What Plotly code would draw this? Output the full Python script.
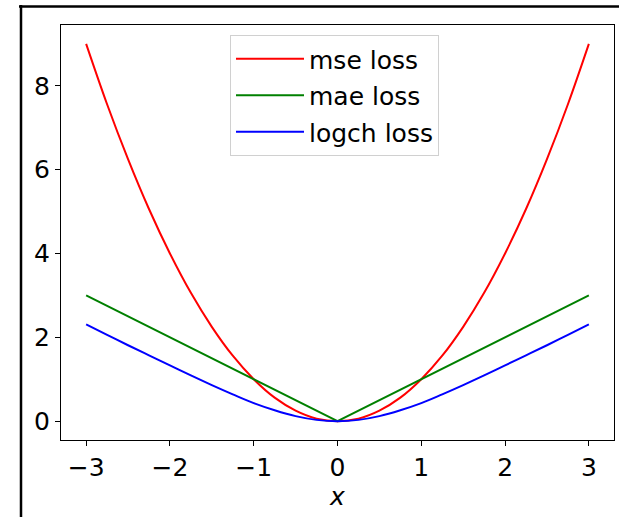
import plotly.graph_objects as go

# Data
x_vals = [-3.0, -2.75, -2.5, -2.25, -2.0, -1.75, -1.5, -1.25, -1.0, -0.75, -0.5, -0.25,
          0.0, 0.25, 0.5, 0.75, 1.0, 1.25, 1.5, 1.75, 2.0, 2.25, 2.5, 2.75, 3.0]
mse_vals = [9.0, 7.56, 6.25, 5.06, 4.0, 3.06, 2.25, 1.56, 1.0, 0.56, 0.25, 0.06,
            0.0, 0.06, 0.25, 0.56, 1.0, 1.56, 2.25, 3.06, 4.0, 5.06, 6.25, 7.56, 9.0]
mae_x = [-3.0, 0.0, 3.0]
mae_vals = [3.0, 0.0, 3.0]
logch_vals = [2.31, 2.06, 1.81, 1.57, 1.33, 1.09, 0.86, 0.64, 0.43, 0.26, 0.12, 0.03,
              0.0, 0.03, 0.12, 0.26, 0.43, 0.64, 0.86, 1.09, 1.33, 1.57, 1.81, 2.06, 2.31]
x_ticks = [-3, -2, -1, 0, 1, 2, 3]
x_tick_text = ["\u22123", "\u22122", "\u22121", "0", "1", "2", "3"]
y_ticks = [0, 2, 4, 6, 8]

FONT = "DejaVu Sans"
W, H = 619, 517
L, R, T, B = 61, 5, 25, 77

fig = go.Figure()
fig.add_trace(go.Scatter(x=x_vals, y=mse_vals, mode="lines", name="mse loss",
                         line=dict(color="red", width=2, shape="spline"), legendgroup="a"))
fig.add_trace(go.Scatter(x=mae_x, y=mae_vals, mode="lines", name="mae loss",
                         line=dict(color="green", width=2), legendgroup="b"))
fig.add_trace(go.Scatter(x=x_vals, y=logch_vals, mode="lines", name="logch loss",
                         line=dict(color="blue", width=2, shape="spline"), legendgroup="c"))

pw = W - L - R
ph = H - T - B

def px_x(p):
    return (p - L) / pw

def px_y(p):
    return (H - B - p) / ph

# outer frame (cropped border in the reference)
fig.add_shape(type="line", xref="paper", yref="paper",
              x0=px_x(19), x1=px_x(625), y0=px_y(6.5), y1=px_y(6.5),
              line=dict(color="black", width=2.5))
fig.add_shape(type="line", xref="paper", yref="paper",
              x0=px_x(21), x1=px_x(21), y0=px_y(5), y1=px_y(525),
              line=dict(color="black", width=2.5))

fig.update_layout(
    width=W, height=H,
    margin=dict(l=L, r=R, t=T, b=B),
    paper_bgcolor="white", plot_bgcolor="white",
    font=dict(family=FONT, size=25, color="black"),
    showlegend=True,
    legend=dict(x=px_x(230), y=px_y(35), xanchor="left", yanchor="top",
                bgcolor="white", bordercolor="#d0d0d0", borderwidth=1,
                font=dict(family=FONT, size=25), tracegroupgap=1,
                itemwidth=68),
    xaxis=dict(range=[-3.3, 3.3], tickmode="array", tickvals=x_ticks, ticktext=x_tick_text,
               ticks="outside", ticklen=5, tickwidth=1, tickcolor="black",
               showline=True, linecolor="black", linewidth=1, mirror=True,
               showgrid=False, zeroline=False,
               title=dict(text="<i>x</i>", font=dict(family=FONT, size=25), standoff=4)),
    yaxis=dict(range=[-0.45, 9.45], tickmode="array", tickvals=y_ticks,
               ticks="outside", ticklen=5, tickwidth=1, tickcolor="black",
               showline=True, linecolor="black", linewidth=1, mirror=True,
               showgrid=False, zeroline=False),
)

fig.write_html("out.html", config={"displayModeBar": False},
               post_script="document.body.style.margin='0px';")
